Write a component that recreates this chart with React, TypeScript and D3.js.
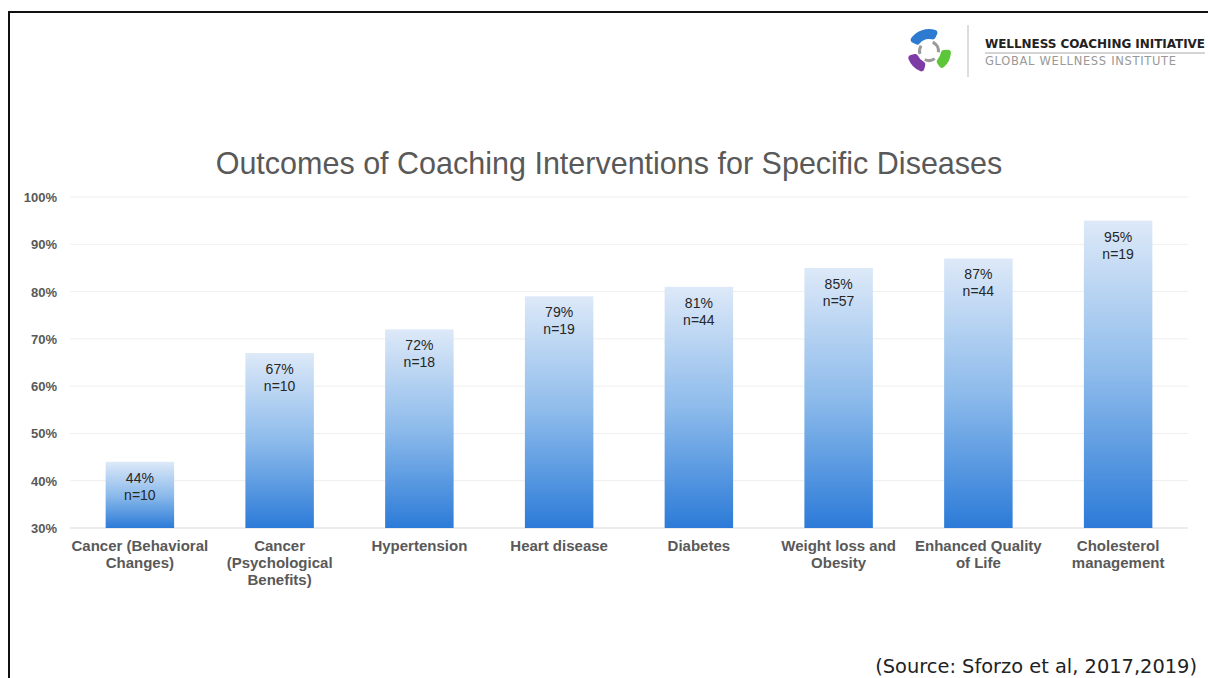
import { useEffect, useRef } from "react";
import * as d3 from "d3";

const categories = [
  ["Cancer (Behavioral", "Changes)"],
  ["Cancer", "(Psychological", "Benefits)"],
  ["Hypertension"],
  ["Heart disease"],
  ["Diabetes"],
  ["Weight loss and", "Obesity"],
  ["Enhanced Quality", "of Life"],
  ["Cholesterol", "management"],
];
const values = [44, 67, 72, 79, 81, 85, 87, 95];
const counts = [10, 10, 18, 19, 44, 57, 44, 19];
const yTicks = [30, 40, 50, 60, 70, 80, 90, 100];

const W = 1208;
const H = 678;

export default function App() {
  const svgRef = useRef<SVGSVGElement>(null);

  useEffect(() => {
    if (!svgRef.current) return;
    const svg = d3.select(svgRef.current);
    svg.selectAll("*").remove();

    const margin = { left: 70, right: 20, top: 197, bottom: 150 };
    const font = "'Liberation Sans', Arial, sans-serif";

    // frame of the slide
    svg.append("path")
      .attr("d", `M9,${H} V12 H${W}`)
      .attr("fill", "none")
      .attr("stroke", "#111")
      .attr("stroke-width", 2);

    const x = d3.scaleBand<number>()
      .domain(d3.range(values.length))
      .range([margin.left, W - margin.right])
      .paddingInner(0.51)
      .paddingOuter(0.255);

    const y = d3.scaleLinear().domain([30, 100]).range([H - margin.bottom, margin.top]);

    const defs = svg.append("defs");
    const grad = defs.append("linearGradient")
      .attr("id", "barGrad")
      .attr("x1", 0).attr("y1", 0).attr("x2", 0).attr("y2", 1);
    grad.append("stop").attr("offset", "0%").attr("stop-color", "#dde9f8");
    grad.append("stop").attr("offset", "50%").attr("stop-color", "#8dbbeb");
    grad.append("stop").attr("offset", "100%").attr("stop-color", "#2c7bd8");

    // title
    svg.append("text")
      .attr("x", 609)
      .attr("y", 174)
      .attr("text-anchor", "middle")
      .attr("font-family", font)
      .attr("font-size", 30.5)
      .attr("fill", "#595959")
      .text("Outcomes of Coaching Interventions for Specific Diseases");

    // gridlines
    svg.append("g")
      .selectAll("line")
      .data(yTicks)
      .join("line")
      .attr("x1", margin.left)
      .attr("x2", W - margin.right)
      .attr("y1", (d) => y(d))
      .attr("y2", (d) => y(d))
      .attr("stroke", (d) => (d === 30 ? "#d9d9d9" : "#eeeeee"))
      .attr("stroke-width", 1);

    // y tick labels
    svg.append("g")
      .selectAll("text")
      .data(yTicks)
      .join("text")
      .attr("x", 57)
      .attr("y", (d) => y(d) + 5)
      .attr("text-anchor", "end")
      .attr("font-family", font)
      .attr("font-weight", "bold")
      .attr("font-size", 13)
      .attr("fill", "#595959")
      .text((d) => `${d}%`);

    // bars
    const bars = svg.append("g")
      .selectAll("g")
      .data(values)
      .join("g");

    bars.append("rect")
      .attr("x", (_, i) => x(i)!)
      .attr("y", (d) => y(d))
      .attr("width", x.bandwidth())
      .attr("height", (d) => y(30) - y(d))
      .attr("fill", "url(#barGrad)");

    bars.append("text")
      .attr("x", (_, i) => x(i)! + x.bandwidth() / 2)
      .attr("y", (d) => y(d) + 21)
      .attr("text-anchor", "middle")
      .attr("font-family", font)
      .attr("font-size", 14)
      .attr("fill", "#262626")
      .text((d) => `${d}%`);

    bars.append("text")
      .attr("x", (_, i) => x(i)! + x.bandwidth() / 2)
      .attr("y", (d) => y(d) + 38)
      .attr("text-anchor", "middle")
      .attr("font-family", font)
      .attr("font-size", 14)
      .attr("fill", "#262626")
      .text((_, i) => `n=${counts[i]}`);

    // category labels
    const cat = svg.append("g")
      .selectAll("text")
      .data(categories)
      .join("text")
      .attr("x", (_, i) => x(i)! + x.bandwidth() / 2)
      .attr("y", 551)
      .attr("text-anchor", "middle")
      .attr("font-family", font)
      .attr("font-weight", "bold")
      .attr("font-size", 15)
      .attr("fill", "#595959");
    cat.each(function (lines, i) {
      const t = d3.select(this);
      lines.forEach((ln, j) => {
        t.append("tspan")
          .attr("x", x(i)! + x.bandwidth() / 2)
          .attr("dy", j === 0 ? 0 : 17)
          .text(ln);
      });
    });

    // source note
    svg.append("text")
      .attr("x", 1197)
      .attr("y", 673)
      .attr("text-anchor", "end")
      .attr("font-family", "'DejaVu Sans', Verdana, sans-serif")
      .attr("font-size", 19.4)
      .attr("fill", "#222")
      .text("(Source: Sforzo et al, 2017,2019)");

    // logo
    const logo = svg.append("g").attr("transform", "translate(929,51)");
    const arc = d3.arc<{ s: number; e: number }>()
      .innerRadius(12)
      .outerRadius(22)
      .startAngle((d) => d.s)
      .endAngle((d) => d.e)
      .cornerRadius(3);
    const pieces = [
      { s: -1.1, e: 0.45, c: "#2d7bd0" },
      { s: 1.5, e: 2.55, c: "#5cc638" },
      { s: 3.4, e: 4.5, c: "#7e3ba6" },
    ];
    logo.selectAll("path.col")
      .data(pieces)
      .join("path")
      .attr("class", "col")
      .attr("d", (d) => arc(d))
      .attr("fill", (d) => d.c);
    const grey = d3.arc<{ s: number; e: number }>()
      .innerRadius(8)
      .outerRadius(11)
      .startAngle((d) => d.s)
      .endAngle((d) => d.e);
    logo.selectAll("path.gr")
      .data([{ s: 0.4, e: 1.7 }, { s: 2.5, e: 3.6 }, { s: 4.4, e: 5.3 }])
      .join("path")
      .attr("class", "gr")
      .attr("d", (d) => grey(d))
      .attr("fill", "#9a9a9a");

    svg.append("line")
      .attr("x1", 968).attr("x2", 968)
      .attr("y1", 25).attr("y2", 77)
      .attr("stroke", "#bbb")
      .attr("stroke-width", 1);

    svg.append("text")
      .attr("x", 985)
      .attr("y", 48)
      .attr("font-family", "'DejaVu Sans', sans-serif")
      .attr("font-weight", "bold")
      .attr("font-size", 12)
      .attr("fill", "#222")
      .attr("textLength", 220)
      .text("WELLNESS COACHING INITIATIVE");

    svg.append("line")
      .attr("x1", 985).attr("x2", 1205)
      .attr("y1", 53).attr("y2", 53)
      .attr("stroke", "#aaa")
      .attr("stroke-width", 1);

    svg.append("text")
      .attr("x", 985)
      .attr("y", 65)
      .attr("font-family", "'DejaVu Sans', sans-serif")
      .attr("font-size", 11.5)
      .attr("fill", "#999")
      .attr("textLength", 191)
      .text("GLOBAL WELLNESS INSTITUTE");
  }, []);

  return (
    <div style={{ position: "fixed", left: 0, top: 0, width: W, height: H, background: "#fff" }}>
      <svg ref={svgRef} width={W} height={H} viewBox={`0 0 ${W} ${H}`} />
    </div>
  );
}
